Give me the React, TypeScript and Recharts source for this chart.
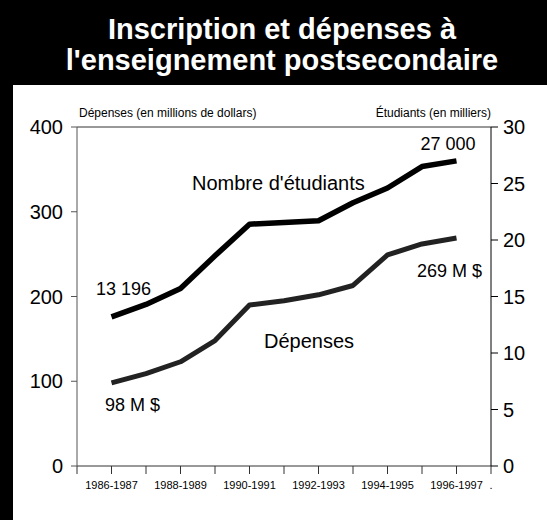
import { LabelList, Line, LineChart, ReferenceLine, XAxis, YAxis } from "recharts";

const periods = [
  "1986-1987",
  "1987-1988",
  "1988-1989",
  "1989-1990",
  "1990-1991",
  "1991-1992",
  "1992-1993",
  "1993-1994",
  "1994-1995",
  "1995-1996",
  "1996-1997",
];

// étudiants, en milliers (axe de droite)
const students = [13.196, 14.3, 15.7, 18.6, 21.4, 21.55, 21.7, 23.3, 24.6, 26.5, 27.0];
// dépenses, en millions de dollars (axe de gauche)
const spending = [98, 109, 123, 148, 190, 195, 202, 213, 249, 262, 269];

const leftTicks = [0, 100, 200, 300, 400];
const rightTicks = [0, 5, 10, 15, 20, 25, 30];
const xTicks = [-1, 0, 1, 2, 3, 4, 5, 6, 7, 8, 9, 10, 11];

const studentLabels = ["13 196", "27 000"];
const spendingLabels = ["98 M $", "269 M $"];

const data = periods.map((p, i) => ({
  idx: i,
  period: p,
  students: students[i],
  spending: spending[i],
}));

const FONT = '"Liberation Sans", Arial, Helvetica, sans-serif';
const last = periods.length - 1;

function xTickLabel(v: number) {
  if (v === 11) return ".";
  if (v >= 0 && v <= last && v % 2 === 0) return periods[v];
  return "";
}

function studentLabel(props: any) {
  const { x, y, index } = props;
  if (index === 0) {
    return (
      <text x={x - 15.5} y={y - 22} fontSize={18} fontFamily={FONT} fill="#000">
        {studentLabels[0]}
      </text>
    );
  }
  if (index === last) {
    return (
      <text x={x + 19} y={y - 11} fontSize={18} fontFamily={FONT} fill="#000" textAnchor="end">
        {studentLabels[1]}
      </text>
    );
  }
  return null;
}

function spendingLabel(props: any) {
  const { x, y, index } = props;
  if (index === 0) {
    return (
      <text x={x - 6.5} y={y + 28} fontSize={18} fontFamily={FONT} fill="#000">
        {spendingLabels[0]}
      </text>
    );
  }
  if (index === last) {
    return (
      <text x={x + 25.5} y={y + 39} fontSize={18} fontFamily={FONT} fill="#000" textAnchor="end">
        {spendingLabels[1]}
      </text>
    );
  }
  return null;
}

export default function App() {
  return (
    <div
      style={{
        position: "absolute",
        left: 0,
        top: 0,
        width: 547,
        height: 520,
        background: "#fff",
        fontFamily: FONT,
        overflow: "hidden",
      }}
    >
      <div style={{ position: "absolute", left: 0, top: 0, width: 547, height: 85, background: "#000" }} />
      <div style={{ position: "absolute", left: 0, top: 0, width: 13, height: 520, background: "#000" }} />

      <div style={{ position: "absolute", left: 0, top: 0 }}>
        <LineChart width={547} height={520} data={data} margin={{ top: 127, right: 0, bottom: 0, left: 0 }}>
          <XAxis
            dataKey="idx"
            type="number"
            domain={[-1, 11]}
            ticks={xTicks}
            tickFormatter={xTickLabel}
            interval={0}
            height={54}
            tickSize={8}
            tickMargin={7}
            stroke="#333"
            tick={{ fill: "#000", fontSize: 11, fontFamily: FONT }}
          />
          <YAxis
            yAxisId="left"
            orientation="left"
            domain={[0, 400]}
            ticks={leftTicks}
            width={77}
            tickSize={6}
            tickMargin={8}
            stroke="#555"
            tick={{ fill: "#000", fontSize: 20, fontFamily: FONT }}
          />
          <YAxis
            yAxisId="right"
            orientation="right"
            domain={[0, 30]}
            ticks={rightTicks}
            width={56}
            tickSize={7}
            tickMargin={5}
            stroke="#000"
            tick={{ fill: "#000", fontSize: 20, fontFamily: FONT }}
          />
          <ReferenceLine yAxisId="left" y={400} stroke="#333" strokeWidth={1} />
          <Line
            yAxisId="left"
            dataKey="spending"
            type="linear"
            stroke="#222"
            strokeWidth={5}
            strokeLinejoin="round"
            dot={false}
            activeDot={false}
            isAnimationActive={false}
          >
            <LabelList dataKey="spending" content={spendingLabel} />
          </Line>
          <Line
            yAxisId="right"
            dataKey="students"
            type="linear"
            stroke="#000"
            strokeWidth={5.5}
            strokeLinejoin="round"
            dot={false}
            activeDot={false}
            isAnimationActive={false}
          >
            <LabelList dataKey="students" content={studentLabel} />
          </Line>
        </LineChart>
      </div>

      <svg
        width={547}
        height={520}
        style={{ position: "absolute", left: 0, top: 0, pointerEvents: "none" }}
      >
        <text x={282} y={39} textAnchor="middle" fontSize={29} fontWeight="bold" fill="#fff" fontFamily={FONT}>
          Inscription et dépenses à
        </text>
        <text x={282} y={70} textAnchor="middle" fontSize={29} fontWeight="bold" fill="#fff" fontFamily={FONT}>
          l'enseignement postsecondaire
        </text>
        <text x={79} y={117} fontSize={12} fill="#000" fontFamily={FONT}>
          Dépenses (en millions de dollars)
        </text>
        <text x={491} y={117} fontSize={12} fill="#000" fontFamily={FONT} textAnchor="end">
          Étudiants (en milliers)
        </text>
        <text x={192} y={190} fontSize={20} fill="#000" fontFamily={FONT}>
          Nombre d'étudiants
        </text>
        <text x={264} y={348} fontSize={20} fill="#000" fontFamily={FONT}>
          Dépenses
        </text>
      </svg>
    </div>
  );
}
